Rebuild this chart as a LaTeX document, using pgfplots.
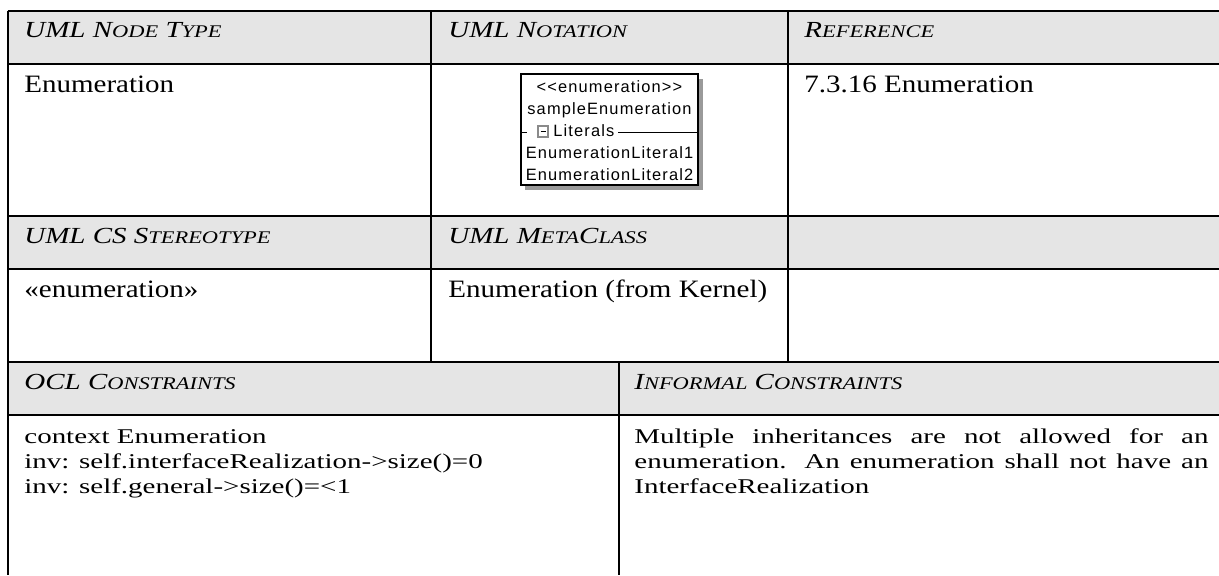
\documentclass[border=0pt]{standalone}
\usepackage{graphicx}
\usepackage{pgfplots}
\pgfplotsset{compat=1.18}
\usepackage{fontspec}
\setmainfont{Liberation Serif}
\newfontfamily\boxfont[LetterSpace=7]{Liberation Sans}
\definecolor{hdr}{HTML}{E5E5E5}
\definecolor{shadowc}{HTML}{9A9A9A}
\definecolor{icon}{HTML}{8A8A8A}
\newcommand\fsc[1]{{\fontsize{8.9}{10}\selectfont #1}}
\newcommand\hd[1]{\scalebox{1.26}[1]{\fontsize{11.5}{13}\selectfont\itshape #1}}
\newcommand\bd[1]{\scalebox{1.16}[1]{\fontsize{12.5}{14}\selectfont #1}}
\newcommand\bb[1]{\scalebox{1.38}[1]{\fontsize{10.5}{12.5}\selectfont #1}}
\newcommand\bx{\boxfont\fontsize{8.2}{10}\selectfont}
\begin{document}
\begin{tikzpicture}
\begin{axis}[width=609.5pt,height=287.5pt,scale only axis,
  xmin=0,xmax=1219,ymin=0,ymax=575,y dir=reverse,hide axis,clip=true,
  every axis plot/.append style={mark=none}]
% background and header fills
\addplot[draw=none,fill=white] coordinates {(0,0)(1219,0)(1219,575)(0,575)} -- cycle;
\addplot[draw=none,fill=hdr] coordinates {(8,11)(1219,11)(1219,64)(8,64)} -- cycle;
\addplot[draw=none,fill=hdr] coordinates {(8,216)(1219,216)(1219,269)(8,269)} -- cycle;
\addplot[draw=none,fill=hdr] coordinates {(8,362)(1219,362)(1219,415)(8,415)} -- cycle;
% horizontal rules
\addplot[black,line width=1pt] coordinates {(7.5,11)(1219,11)};
\addplot[black,line width=1pt] coordinates {(8,64)(1219,64)};
\addplot[black,line width=1pt] coordinates {(8,216)(1219,216)};
\addplot[black,line width=1pt] coordinates {(8,269)(1219,269)};
\addplot[black,line width=1pt] coordinates {(8,362)(1219,362)};
\addplot[black,line width=1pt] coordinates {(8,415)(1219,415)};
% vertical rules
\addplot[black,line width=1pt] coordinates {(8,10.5)(8,575)};
\addplot[black,line width=1pt] coordinates {(431,11)(431,362)};
\addplot[black,line width=1pt] coordinates {(788,11)(788,362)};
\addplot[black,line width=1pt] coordinates {(619,362)(619,575)};
% UML notation box
\addplot[draw=none,fill=shadowc] coordinates {(525,79)(703,79)(703,190)(525,190)} -- cycle;
\addplot[draw=black,line width=0.6pt,fill=white] coordinates {(521,74)(698,74)(698,185)(521,185)} -- cycle;
\addplot[black,line width=0.5pt] coordinates {(521,132)(527,132)};
\addplot[draw=icon,line width=0.6pt,fill=white] coordinates {(538,126)(548,126)(548,137)(538,137)} -- cycle;
\addplot[black,line width=0.6pt] coordinates {(540.5,131.5)(545.5,131.5)};
\addplot[black,line width=0.5pt] coordinates {(618,132)(698,132)};
\node[anchor=base,inner sep=0] at (axis cs:609.5,92) {\bx <<enumeration>>};
\node[anchor=base,inner sep=0] at (axis cs:609.5,114) {\bx sampleEnumeration};
\node[anchor=base west,inner sep=0] at (axis cs:553,136) {\bx Literals};
\node[anchor=base,inner sep=0] at (axis cs:609.5,158) {\bx EnumerationLiteral1};
\node[anchor=base,inner sep=0] at (axis cs:609.5,180) {\bx EnumerationLiteral2};
% header texts
\node[anchor=base west,inner sep=0] at (axis cs:24,37) {\hd{UML N\fsc{ODE} T\fsc{YPE}}};
\node[anchor=base west,inner sep=0] at (axis cs:448,37) {\hd{UML N\fsc{OTATION}}};
\node[anchor=base west,inner sep=0] at (axis cs:804,37) {\hd{R\fsc{EFERENCE}}};
\node[anchor=base west,inner sep=0] at (axis cs:24,243) {\hd{UML CS S\fsc{TEREOTYPE}}};
\node[anchor=base west,inner sep=0] at (axis cs:448,243) {\hd{UML M\fsc{ETA}C\fsc{LASS}}};
\node[anchor=base west,inner sep=0] at (axis cs:24,389) {\hd{OCL C\fsc{ONSTRAINTS}}};
\node[anchor=base west,inner sep=0] at (axis cs:634,389) {\hd{I\fsc{NFORMAL} C\fsc{ONSTRAINTS}}};
% body texts
\node[anchor=base west,inner sep=0] at (axis cs:24,92) {\bd{Enumeration}};
\node[anchor=base west,inner sep=0] at (axis cs:804,92) {\bd{7.3.16 Enumeration}};
\node[anchor=base west,inner sep=0] at (axis cs:24,297) {\bd{«enumeration»}};
\node[anchor=base west,inner sep=0] at (axis cs:448,297) {\bd{Enumeration (from Kernel)}};
\node[anchor=base west,inner sep=0] at (axis cs:24,443) {\bb{context Enumeration}};
\node[anchor=base west,inner sep=0] at (axis cs:24,468) {\bb{inv: self.interfaceRealization->size()=0}};
\node[anchor=base west,inner sep=0] at (axis cs:24,493) {\bb{inv: self.general->size()=<1}};
\node[anchor=base west,inner sep=0] at (axis cs:634,443) {\bb{\makebox[208pt][s]{Multiple inheritances are not allowed for an}}};
\node[anchor=base west,inner sep=0] at (axis cs:634,468) {\bb{\makebox[208pt][s]{enumeration. An enumeration shall not have an}}};
\node[anchor=base west,inner sep=0] at (axis cs:634,493) {\bb{InterfaceRealization}};
\end{axis}
\end{tikzpicture}
\end{document}
